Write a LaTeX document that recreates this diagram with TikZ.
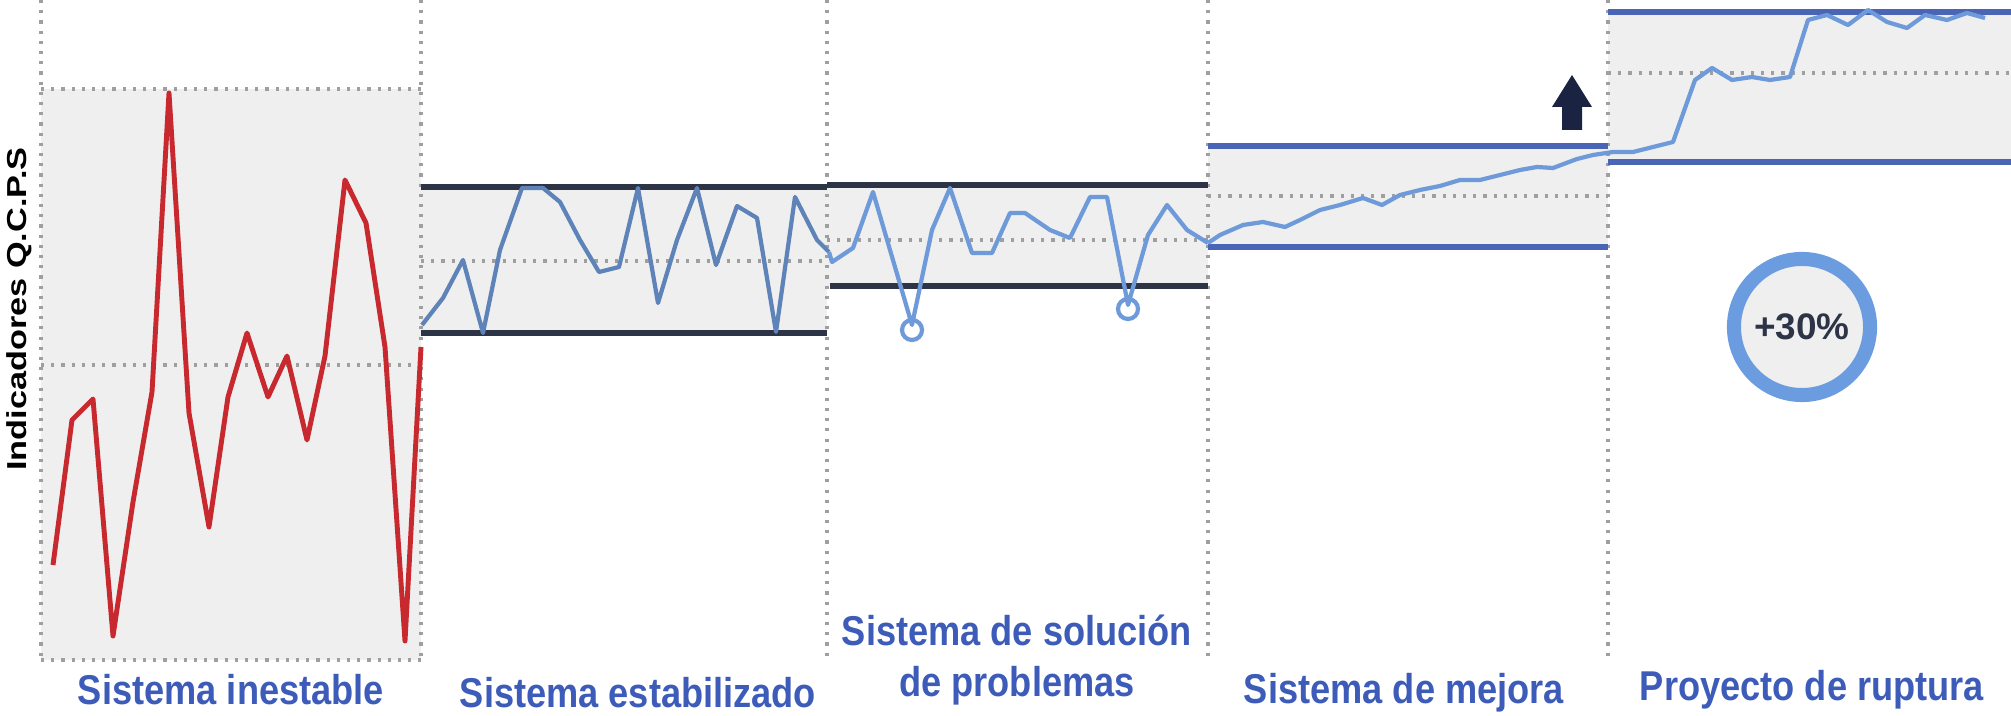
\documentclass[tikz,border=0pt]{standalone}
\usepackage{fontspec}
\setmainfont{Liberation Sans}
\usepackage{tikz}
\usetikzlibrary{arrows.meta,positioning,calc}

\definecolor{redline}{HTML}{C8292E}
\definecolor{bandgray}{HTML}{EFEFEF}
\definecolor{darkband}{HTML}{2C3446}
\definecolor{midblue}{HTML}{4A64B6}
\definecolor{dataline}{HTML}{6E9AD9}
\definecolor{labelblue}{HTML}{3D5BB8}
\definecolor{navy}{HTML}{1B2342}
\definecolor{ringblue}{HTML}{6C9CE0}

\newcommand{\tall}[1]{\scalebox{1}[1.15]{#1}}

\begin{document}
\begin{tikzpicture}[
  x=0.01cm,y=-0.01cm,
  grid/.style={draw=gray!75,dotted,line width=0.9pt},
  limit/.style={line width=1.7pt},
  series/.style={line width=1.2pt,line join=round,dataline},
  lbl/.style={font=\bfseries\fontsize{10.3}{12.5}\selectfont,text=labelblue,inner sep=0pt}
]
\useasboundingbox (0,0) rectangle (2011,716);

% 背景の帯
\fill[bandgray] (41,89) rectangle (421,660);
\fill[bandgray] (421,187) rectangle (827,333);
\fill[bandgray] (827,185) rectangle (1208,286);
\fill[bandgray] (1208,146) rectangle (1608,247);
\fill[bandgray] (1608,12) rectangle (2011,162);

% 点線
\foreach \x in {41,421,827,1208,1608}
  \draw[grid] (\x,0) -- (\x,662);
\draw[grid] (41,89) -- (421,89);
\draw[grid] (41,365) -- (421,365);
\draw[grid] (41,660) -- (421,660);
\draw[grid] (421,261) -- (827,261);
\draw[grid] (827,240) -- (1208,240);
\draw[grid] (1208,196) -- (1608,196);
\draw[grid] (1608,73) -- (2011,73);

% 管理限界
\draw[limit,darkband] (421,187) -- (827,187);
\draw[limit,darkband] (421,333) -- (827,333);
\draw[limit,darkband] (827,185) -- (1208,185);
\draw[limit,darkband] (830,286) -- (1208,286);
\draw[limit,midblue] (1208,146) -- (1608,146);
\draw[limit,midblue] (1208,247) -- (1608,247);
\draw[limit,midblue] (1608,12) -- (2011,12);
\draw[limit,midblue] (1608,162) -- (2011,162);

% データ系列
\draw[series,redline,line width=1.4pt] (53,565) -- (72,420) -- (93,399) -- (113,636) -- (133,502)
  -- (152,392) -- (169,93) -- (189,413) -- (209,527) -- (228,397) -- (247,333) -- (268,397)
  -- (287,356) -- (307,440) -- (325,356) -- (345,180) -- (366,223) -- (385,347) -- (405,641)
  -- (421,347);
\draw[series,color=dataline!85!black] (422,325) -- (443,298) -- (463,260) -- (483,333) -- (500,250)
  -- (522,188) -- (543,188) -- (560,202) -- (580,240) -- (599,272) -- (619,267) -- (638,188)
  -- (658,303) -- (677,240) -- (697,188) -- (716,265) -- (737,206) -- (757,218) -- (776,332)
  -- (795,197) -- (817,240) -- (829,252);
\draw[series] (829,252) -- (832,262) -- (853,248) -- (873,192) -- (912,325) -- (932,230)
  -- (950,188) -- (972,253) -- (992,253) -- (1010,213) -- (1025,213) -- (1050,230)
  -- (1070,238) -- (1090,197) -- (1107,197) -- (1128,305) -- (1148,235) -- (1167,205)
  -- (1187,230) -- (1208,243);
\draw[series] (1208,243) -- (1220,235) -- (1243,225) -- (1263,222) -- (1285,227) -- (1300,220)
  -- (1320,210) -- (1340,205) -- (1363,198) -- (1382,205) -- (1400,195) -- (1420,190)
  -- (1440,186) -- (1460,180) -- (1480,180) -- (1500,175) -- (1520,170) -- (1537,167)
  -- (1553,168) -- (1577,159) -- (1593,155) -- (1613,152) -- (1633,152) -- (1653,147)
  -- (1673,142) -- (1695,80) -- (1712,68) -- (1732,80) -- (1752,77) -- (1770,80)
  -- (1790,77) -- (1808,20) -- (1827,15) -- (1848,25) -- (1868,10) -- (1887,22)
  -- (1907,28) -- (1925,15) -- (1947,20) -- (1967,13) -- (1985,18);

% 異常点
\node[circle,draw=dataline,line width=1.2pt,minimum size=0.2cm,inner sep=0pt] (out1) at (912,330) {};
\node[circle,draw=dataline,line width=1.2pt,minimum size=0.2cm,inner sep=0pt] (out2) at (1128,309) {};

% 上向き矢印
\fill[navy] (1572,75) -- (1592,107) -- (1582,107) -- (1582,130) -- (1562,130)
  -- (1562,107) -- (1552,107) -- cycle;

% +30%
\node[circle,draw=ringblue,fill=bandgray,line width=4pt,minimum size=1.36cm,
  font=\bfseries\fontsize{10.5}{12}\selectfont,text=darkband] (gain) at (1802,327) {+30\%};

% ラベル
\node[rotate=90,font=\bfseries\fontsize{7.8}{9}\selectfont] (yaxis) at (19,309)
  {\scalebox{1.25}[1]{Indicadores Q.C.P.S}};
\node[lbl] (inest) at (231,690) {\tall{Sistema inestable}};
\node[lbl] (estab) at (638,693) {\tall{Sistema estabilizado}};
\node[lbl] (solu) at (1017,661)
  {\tall{\begin{tabular}{@{}c@{}}Sistema de solución\\de problemas\end{tabular}}};
\node[lbl] (mejora) at (1404,693) {\tall{Sistema de mejora}};
\node[lbl] (ruptura) at (1812,690) {\tall{Proyecto de ruptura}};
\end{tikzpicture}
\end{document}
